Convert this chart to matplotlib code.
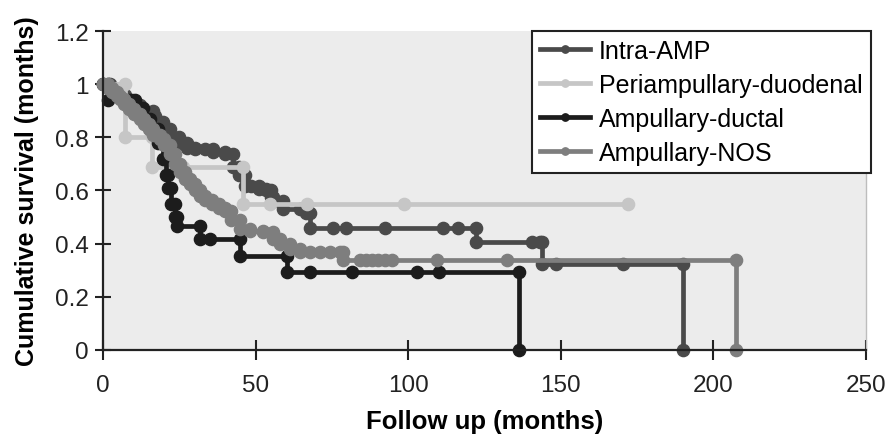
import matplotlib
matplotlib.use("Agg")
import matplotlib.pyplot as plt
import numpy as np

plt.rcParams["font.family"] = ["Liberation Sans", "DejaVu Sans"]

# Kaplan-Meier event/censor times (months) and survival after each time
intra_t = [2.3, 5.0, 7.2, 9.5, 12.1, 16.4, 17.0, 19.5, 22.0, 25.0, 27.5, 30.0,
           33.4, 36.0, 40.0, 42.6, 44.5, 46.5, 48.5, 51.0, 53.5, 55.0, 55.8,
           59.0, 64.5, 66.5, 67.8, 75.4, 79.6, 92.4, 111.4, 116.3, 122.2,
           140.6, 143.2, 143.8, 148.4, 170.4, 190.0]
intra_s = [0.98, 0.96, 0.94, 0.92, 0.90, 0.88, 0.857, 0.83, 0.80, 0.78, 0.76,
           0.755, 0.755, 0.745, 0.737, 0.69, 0.66, 0.617, 0.617, 0.605, 0.60,
           0.575, 0.56, 0.53, 0.53, 0.515, 0.459, 0.459, 0.459, 0.459, 0.459,
           0.459, 0.406, 0.406, 0.406, 0.323, 0.323, 0.323, 0.0]

peri_t = [7.2, 16.2, 26.2, 45.8, 54.7, 66.8, 98.6, 172.0]
peri_s = [0.80, 0.688, 0.688, 0.549, 0.549, 0.549, 0.549, 0.549]

ductal_t = [1.6, 8.8, 10.5, 13.0, 15.4, 18.0, 19.7, 20.6, 21.3, 22.3, 23.6,
            24.2, 31.8, 35.1, 44.9, 60.3, 67.8, 81.6, 102.9, 110.1, 136.3]
ductal_s = [0.94, 0.94, 0.91, 0.87, 0.83, 0.78, 0.72, 0.66, 0.61, 0.55, 0.50,
            0.466, 0.417, 0.417, 0.353, 0.293, 0.293, 0.293, 0.293, 0.293, 0.0]

nos_t = [1.5, 3.0, 4.5, 5.6, 7.0, 8.5, 10.0, 12.1, 13.5, 15.0, 16.5, 18.7,
         20.0, 22.0, 23.5, 25.2, 27.0, 28.5, 30.0, 31.8, 33.5, 35.7, 38.0,
         40.0, 42.0, 44.9, 48.2, 52.4, 55.7, 58.0, 61.3, 64.5, 67.8, 71.1,
         74.4, 77.7, 78.6, 84.2, 86.2, 88.1, 90.1, 92.4, 94.7, 109.4, 132.4,
         207.4]
nos_s = [0.985, 0.97, 0.955, 0.944, 0.925, 0.905, 0.888, 0.868, 0.85, 0.83,
         0.81, 0.793, 0.77, 0.737, 0.70, 0.669, 0.645, 0.624, 0.60, 0.579,
         0.565, 0.549, 0.535, 0.523, 0.49, 0.455, 0.447, 0.444, 0.417, 0.398,
         0.38, 0.368, 0.368, 0.368, 0.368, 0.368, 0.338, 0.338, 0.338, 0.338,
         0.338, 0.338, 0.338, 0.338, 0.338, 0.0]

SERIES = [
    ("Intra-AMP", intra_t, intra_s, "#4a4a4a"),
    ("Periampullary-duodenal", peri_t, peri_s, "#c6c6c6"),
    ("Ampullary-ductal", ductal_t, ductal_s, "#1c1c1c"),
    ("Ampullary-NOS", nos_t, nos_s, "#7e7e7e"),
]


def km_path(times, surv):
    # step vertices: horizontal to each time, then vertical drop
    xs, ys = [0.0], [1.0]
    prev = 1.0
    for t, s in zip(times, surv):
        if s != prev:
            xs.append(t); ys.append(prev)
        xs.append(t); ys.append(s)
        prev = s
    return np.array(xs), np.array(ys)


fig = plt.figure(figsize=(8.91, 4.39), dpi=100)
ax = fig.add_axes([0.1156, 0.2005, 0.8564, 0.7266])
ax.set_facecolor("#ececec")

for label, t, s, col in SERIES:
    x, y = km_path(t, s)
    ax.plot(x, y, color=col, lw=3.4, marker="o", ms=8.8, mec=col, mfc=col,
            label=label, clip_on=False)

ax.set_xlim(0, 250)
ax.set_ylim(0, 1.2)
ax.set_xticks([0, 50, 100, 150, 200, 250])
ax.set_yticks([0, 0.2, 0.4, 0.6, 0.8, 1.0, 1.2])
ax.set_yticklabels(["0", "0.2", "0.4", "0.6", "0.8", "1", "1.2"])
ax.tick_params(axis="both", labelsize=17.5, colors="#222222", width=1.5)
ax.tick_params(axis="x", direction="inout", length=14, pad=10)
ax.tick_params(axis="y", direction="inout", length=11, pad=5)

ax.spines["top"].set_visible(False)
ax.spines["right"].set_color("#bdbdbd")
ax.spines["right"].set_linewidth(1)
for side in ("left", "bottom"):
    ax.spines[side].set_color("#222222")
    ax.spines[side].set_linewidth(1.6)

ax.set_xlabel("Follow up (months)", fontsize=18.5, fontweight="bold", labelpad=10)
ax.set_ylabel("Cumulative survival (months)", fontsize=18, fontweight="bold",
              labelpad=11)

leg = ax.legend(loc="upper right", bbox_to_anchor=(1.006, 1.0),
                borderaxespad=0, fontsize=18, handlelength=2.0, numpoints=1,
                markerscale=0.6, frameon=True, fancybox=False, framealpha=1,
                labelspacing=0.4, handletextpad=0.35, borderpad=0.32)
leg.get_frame().set_edgecolor("#222222")
leg.get_frame().set_linewidth(1.5)
leg.get_frame().set_facecolor("white")
leg.set_zorder(5)

fig.savefig("out.png", dpi=100)
